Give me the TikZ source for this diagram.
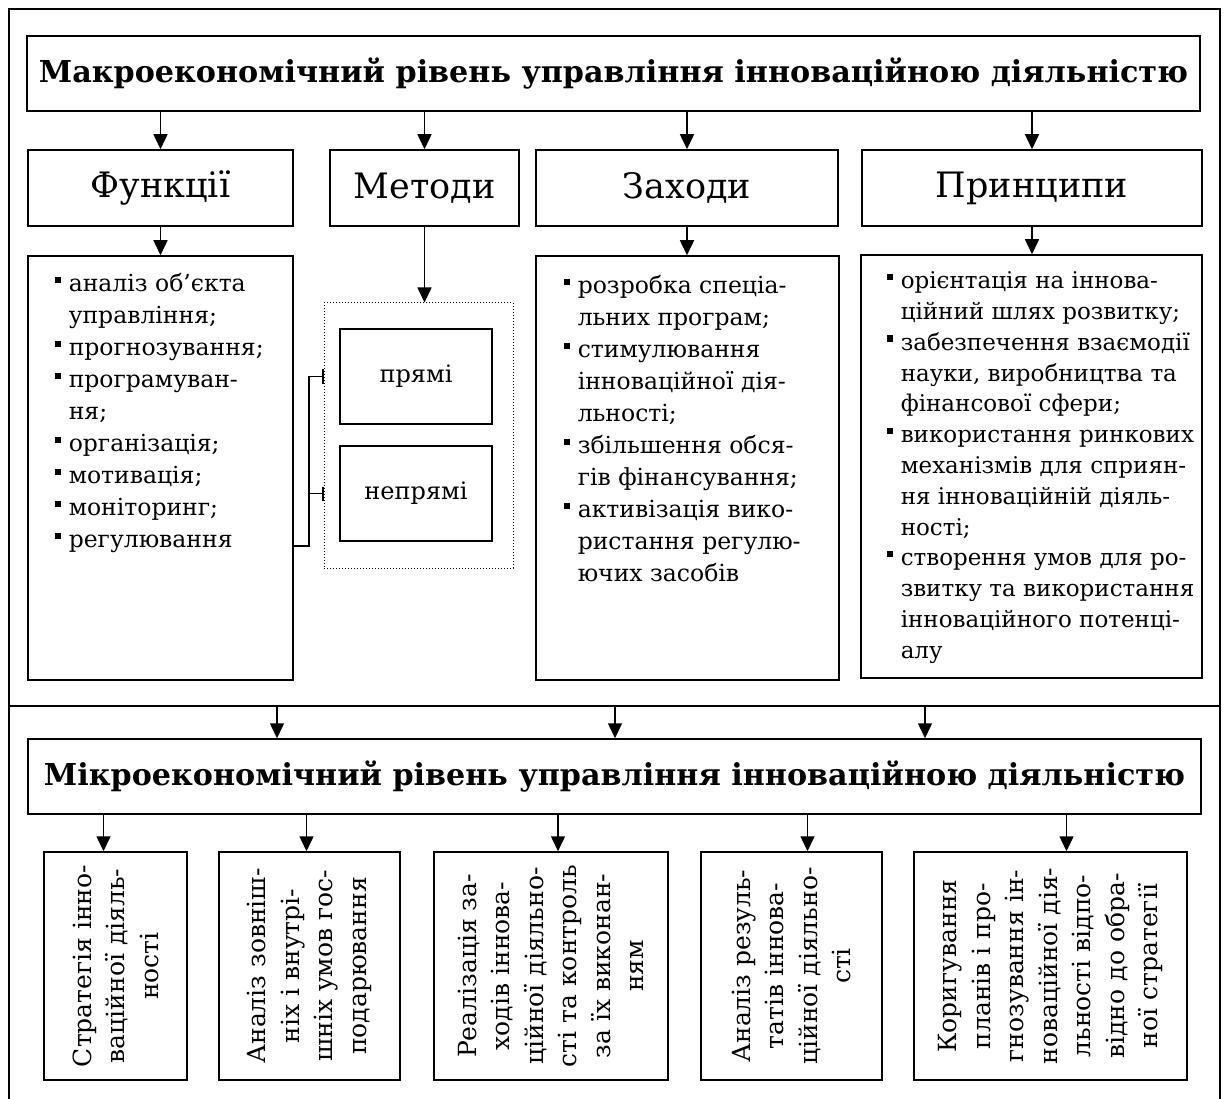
\documentclass[tikz,border=0pt]{standalone}
\usepackage{fontspec}
\setmainfont{DejaVu Serif}
\usepackage{tikz}
\usetikzlibrary{calc, arrows.meta}

\newcommand{\bul}{\makebox[14pt][l]{\rule[8.5pt]{6pt}{6.5pt}}}
\newcommand{\lpad}{\hspace*{14pt}}

\begin{document}
\begin{tikzpicture}[x=1pt, y=-1pt, >={Triangle[length=15pt,width=14pt]},
  box/.style={draw, line width=1.5pt, inner sep=0pt},
  head/.style={box, minimum height=76pt, font=\fontsize{35}{40}\selectfont},
  title/.style={box, minimum width=1173pt, minimum height=75pt, font=\fontsize{30.2}{36}\selectfont\bfseries},
  listtext/.style={anchor=north west, inner sep=0pt, align=left, font=\fontsize{23.5}{32}\selectfont},
  vtext/.style={rotate=90, inner sep=0pt, align=center, font=\fontsize{25}{33.5}\selectfont},
  frame/.style={line width=2.4pt},
  every path/.style={line width=1.5pt}]
  \useasboundingbox (0,0) rectangle (1224,1099);
  \draw [frame] (9,1102) -- (9,9) -- (1220,9) -- (1220,1102);
  \draw [frame] (9,706) -- (1220,706);

  \node (macro) at (613.5,73.5) [title] {Макроекономічний рівень управління інноваційною діяльністю};
  \node (fun) at (160.5,188) [head, minimum width=265pt] {Функції};
  \node (meth) at (424.5,188) [head, minimum width=189pt] {Методи};
  \node (act) at (687,188) [head, minimum width=302pt] {Заходи};
  \node (prin) at (1032,188) [head, minimum width=340pt] {Принципи};

  \node (funlist) at (160.5,468) [box, minimum width=265pt, minimum height=424pt] {};
  \node (actlist) at (687.5,468) [box, minimum width=303pt, minimum height=424pt] {};
  \node (prinlist) at (1031.5,466.5) [box, minimum width=341pt, minimum height=423pt] {};
  \node (mgrp) at (418.5,435.5) [draw, dotted, line width=1pt, inner sep=0pt, minimum width=189pt, minimum height=265pt] {};
  \node (direct) at (416,376.5) [box, minimum width=152pt, minimum height=95pt, font=\fontsize{24}{28}\selectfont] {прямі};
  \node (indirect) at (416,493.5) [box, minimum width=152pt, minimum height=95pt, font=\fontsize{24}{28}\selectfont] {непрямі};

  \node (funtext) at (54,273) [listtext] {\bul аналіз об’єкта\\ \lpad управління;\\ \bul прогнозування;\\ \bul програмуван-\\ \lpad ня;\\ \bul організація;\\ \bul мотивація;\\ \bul моніторинг;\\ \bul регулювання};
  \node (acttext) at (563,275) [listtext] {\bul розробка спеціа-\\ \lpad льних програм;\\ \bul стимулювання\\ \lpad інноваційної дія-\\ \lpad льності;\\ \bul збільшення обся-\\ \lpad гів фінансування;\\ \bul активізація вико-\\ \lpad ристання регулю-\\ \lpad ючих засобів};
  \node (printext) at (886,271) [listtext, font=\fontsize{23}{30.8}\selectfont] {\bul орієнтація на іннова-\\ \lpad ційний шлях розвитку;\\ \bul забезпечення взаємодії\\ \lpad науки, виробництва та\\ \lpad фінансової сфери;\\ \bul використання ринкових\\ \lpad механізмів для сприян-\\ \lpad ня інноваційній діяль-\\ \lpad ності;\\ \bul створення умов для ро-\\ \lpad звитку та використання\\ \lpad інноваційного потенці-\\ \lpad алу};

  \foreach \b in {fun, meth, act, prin}
    \draw [->] (macro.south -| \b.north) -- (\b.north);
  \draw [->] (fun.south) -- (funlist.north -| fun.south);
  \draw [->] (meth.south) -- (mgrp.north -| meth.south);
  \draw [->] (act.south) -- (actlist.north -| act.south);
  \draw [->] (prin.south) -- (prinlist.north -| prin.south);

  \coordinate (br) at (309,546);
  \draw [-{Bar[width=14pt]}] (funlist.east |- br) -- (br) |- (mgrp.west |- direct);
  \draw [-{Bar[width=14pt]}] (br |- indirect) -- (mgrp.west |- indirect);

  \node (micro) at (614.5,776.5) [title] {Мікроекономічний рівень управління інноваційною діяльністю};
  \coordinate (d1) at (277,706);
  \coordinate (d2) at (615,706);
  \coordinate (d3) at (925,706);
  \foreach \d in {d1, d2, d3}
    \draw [->] (\d) -- (\d |- micro.north);

  \node (b1) at (115.5,966) [box, minimum width=143pt, minimum height=228pt] {};
  \node (b2) at (309.5,966) [box, minimum width=181pt, minimum height=228pt] {};
  \node (b3) at (551,966) [box, minimum width=234pt, minimum height=228pt] {};
  \node (b4) at (791.5,966) [box, minimum width=181pt, minimum height=228pt] {};
  \node (b5) at (1050.5,966) [box, minimum width=273pt, minimum height=228pt] {};
  \node (t1) at (b1) [vtext] {Стратегія інно-\\ваційної діяль-\\ності};
  \node (t2) at (b2) [vtext] {Аналіз зовніш-\\ніх і внутрі-\\шніх умов гос-\\подарювання};
  \node (t3) at (b3) [vtext] {Реалізація за-\\ходів іннова-\\ційної діяльно-\\сті та контроль\\за їх виконан-\\ням};
  \node (t4) at (b4) [vtext] {Аналіз резуль-\\татів іннова-\\ційної діяльно-\\сті};
  \node (t5) at (b5) [vtext] {Коригування\\планів і про-\\гнозування ін-\\новаційної дія-\\льності відпо-\\відно до обра-\\ної стратегії};

  \foreach \b/\dx in {b1/-12, b2/-3, b3/7, b4/16, b5/16}
    \draw [->] ($(micro.south -| \b.north)+(\dx,0)$) -- ($(\b.north)+(\dx,0)$);
\end{tikzpicture}
\end{document}
